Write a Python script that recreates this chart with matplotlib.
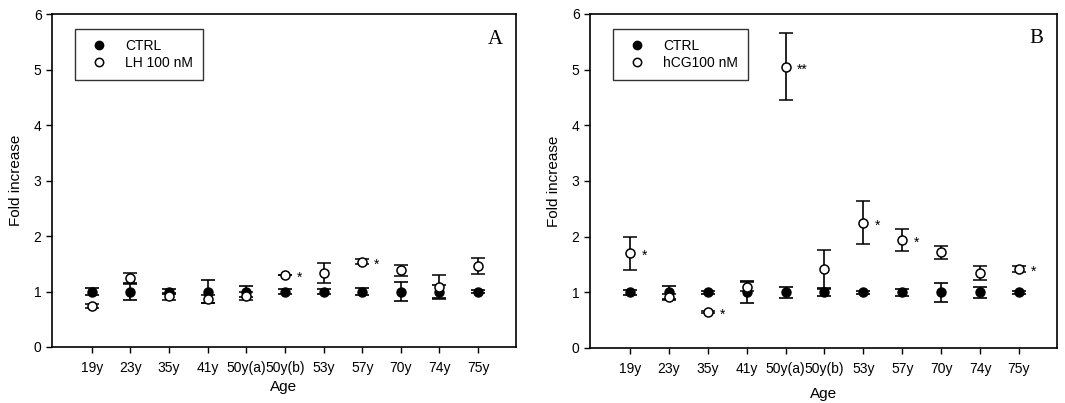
import matplotlib
matplotlib.use("Agg")
import matplotlib.pyplot as plt
from matplotlib.lines import Line2D
import numpy as np

ages = ["19y", "23y", "35y", "41y", "50y(a)", "50y(b)", "53y", "57y", "70y", "74y", "75y"]

# panel A: CTRL vs LH 100 nM
ctrl_a = [1.0, 1.0, 1.0, 1.0, 1.0, 1.0, 1.0, 1.0, 1.0, 1.0, 1.0]
ctrl_a_err = [0.06, 0.15, 0.05, 0.2, 0.1, 0.05, 0.04, 0.06, 0.17, 0.12, 0.03]
lh = [0.74, 1.24, 0.91, 0.86, 0.92, 1.30, 1.34, 1.54, 1.38, 1.08, 1.46]
lh_err = [0.04, 0.1, 0.07, 0.07, 0.08, 0.0, 0.18, 0.05, 0.1, 0.22, 0.14]
stars_a = ["", "", "", "", "", "*", "", "*", "", "", ""]

# panel B: CTRL vs hCG 100 nM
ctrl_b = [1.0, 1.0, 1.0, 1.0, 1.0, 1.0, 1.0, 1.0, 1.0, 1.0, 1.0]
ctrl_b_err = [0.05, 0.12, 0.03, 0.2, 0.1, 0.07, 0.03, 0.06, 0.17, 0.1, 0.03]
hcg = [1.70, 0.92, 0.65, 1.10, 5.05, 1.41, 2.25, 1.94, 1.72, 1.35, 1.42]
hcg_err = [0.3, 0.05, 0.02, 0.08, 0.6, 0.35, 0.39, 0.19, 0.12, 0.13, 0.05]
stars_b = ["*", "", "*", "", "**", "", "*", "*", "", "", "*"]

plt.rcParams['font.family'] = ['Liberation Sans', 'DejaVu Sans']


def panel(ax, ctrl, ctrl_err, treat, treat_err, stars, treat_label, letter, xlabelpad):
    x = np.arange(len(ages))
    ax.errorbar(x, ctrl, yerr=ctrl_err, fmt='o', color='black', mfc='black', mec='black',
                ms=6.5, capsize=5, elinewidth=1.2, capthick=1.2, zorder=2)
    ax.errorbar(x, treat, yerr=treat_err, fmt='o', color='black', mfc='white', mec='black',
                ms=6.5, mew=1.1, capsize=5, elinewidth=1.2, capthick=1.2, zorder=3)
    for xi, yi, s in zip(x, treat, stars):
        if s:
            ax.text(xi + 0.3, yi - 0.05, s, fontsize=10, ha='left', va='center')
    ax.set_xlim(-1.03, 10.98)
    ax.set_ylim(0, 6)
    ax.set_xticks(x)
    ax.set_xticklabels(ages, fontsize=10)
    ax.set_yticks([0, 1, 2, 3, 4, 5, 6])
    ax.tick_params(axis='y', labelsize=10, direction='out', length=4, width=1)
    ax.tick_params(axis='x', direction='out', length=4, width=1, pad=6)
    for sp in ax.spines.values():
        sp.set_linewidth(1.2)
    ax.set_xlabel('Age', fontsize=11, labelpad=xlabelpad)
    ax.set_ylabel('Fold increase', fontsize=11, labelpad=8)
    ax.text(0.955, 0.925, letter, transform=ax.transAxes, fontsize=15,
            family='Liberation Serif', ha='center', va='center')
    handles = [
        Line2D([], [], ls='none', marker='o', ms=6, mfc='black', mec='black'),
        Line2D([], [], ls='none', marker='o', ms=6, mfc='white', mec='black', mew=1.1),
    ]
    leg = ax.legend(handles, ['CTRL', treat_label], loc='upper left',
                    bbox_to_anchor=(0.05, 0.955), fontsize=10, frameon=True,
                    fancybox=False, handletextpad=0.9, borderpad=0.7,
                    borderaxespad=0, handlelength=2.0, labelspacing=0.25)
    leg.get_frame().set_edgecolor('black')
    leg.get_frame().set_linewidth(1.0)


fig = plt.figure(figsize=(10.65, 4.03), dpi=100)
ax1 = fig.add_axes([0.0488, 0.139, 0.4357, 0.826])
ax2 = fig.add_axes([0.554, 0.1365, 0.4385, 0.829])

panel(ax1, ctrl_a, ctrl_a_err, lh, lh_err, stars_a, 'LH 100 nM', 'A', 4)
panel(ax2, ctrl_b, ctrl_b_err, hcg, hcg_err, stars_b, 'hCG100 nM', 'B', 8)

fig.savefig('out.png', dpi=100)
